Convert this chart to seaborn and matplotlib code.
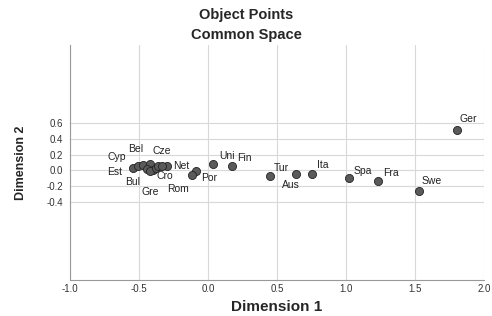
import matplotlib
matplotlib.use("Agg")
import matplotlib.pyplot as plt
from matplotlib import font_manager
import seaborn as sns
import pandas as pd

# object points
countries = ["Est", "Cyp", "Bel", "Cze", "Net", "Bul", "Cro", "Gre", "Rom", "", "",
             "Uni", "Fin", "Por", "", "Tur", "Aus", "Ita", "Spa", "Fra", "Swe", "Ger"]
dim1 = [-0.54, -0.505, -0.47, -0.42, -0.30, -0.44, -0.40, -0.42, -0.375, -0.36, -0.33,
        0.038, 0.171, -0.09, -0.113, 0.448, 0.635, 0.753, 1.025, 1.23, 1.53, 1.805]
dim2 = [0.025, 0.05, 0.065, 0.075, 0.06, 0.01, 0.0, -0.01, 0.025, 0.06, 0.05,
        0.085, 0.06, -0.01, -0.055, -0.076, -0.047, -0.05, -0.105, -0.135, -0.27, 0.52]

xticks = [-1.0, -0.5, 0.0, 0.5, 1.0, 1.5, 2.0]
yticks = [-0.4, -0.2, 0.0, 0.2, 0.4, 0.6]

df = pd.DataFrame({"country": countries, "dim1": dim1, "dim2": dim2})

# label offsets in points (dx, dy)
offsets = {"Est": (-19, -3), "Cyp": (-22, 3), "Bel": (-11, 8), "Cze": (2, 6),
           "Net": (5, 0), "Bul": (-16, -9), "Cro": (3, -4), "Gre": (-6, -15),
           "Rom": (8, -15), "Uni": (4, 2), "Fin": (4, 2), "Por": (4, -5),
           "Tur": (3, 2), "Aus": (-10, -8), "Ita": (4, 3), "Spa": (3, 2),
           "Fra": (4, 2), "Swe": (2, 4), "Ger": (2, 4)}

sns.set_style("whitegrid")
plt.rcParams['font.family'] = ['Liberation Sans', 'DejaVu Sans']

names = {f.name for f in font_manager.fontManager.ttflist}
narrow = 'Liberation Sans Narrow' if 'Liberation Sans Narrow' in names else 'Liberation Sans'

fig = plt.figure(figsize=(4.92, 3.16), dpi=100)
ax = fig.add_axes([0.142, 0.114, 0.842, 0.744])

sns.scatterplot(data=df, x="dim1", y="dim2", ax=ax, color="#5a5a5a",
                edgecolor="#222222", linewidth=0.6, s=34, zorder=3)

for _, r in df.iterrows():
    if r["country"]:
        dx, dy = offsets[r["country"]]
        ax.annotate(r["country"], (r["dim1"], r["dim2"]), xytext=(dx, dy),
                    textcoords="offset points", fontsize=7.5, color="#222222",
                    va="bottom" if dy > 0 else "center", zorder=4)

ax.set_xlim(-1.0, 2.0)
ax.set_ylim(-1.4, 1.6)
ax.set_xticks(xticks)
ax.set_yticks(yticks)
ax.set_xticklabels([f"{t:.1f}" for t in xticks], fontsize=7)
ax.set_yticklabels([f"{t:.1f}" for t in yticks], fontsize=7)
ax.tick_params(axis="x", length=0, pad=3, colors="#333333")
ax.tick_params(axis="y", length=0, pad=5, colors="#333333")
ax.grid(True, color="#d8d8d8", linewidth=0.8)

for s in ["top", "right"]:
    ax.spines[s].set_visible(False)
for s in ["left", "bottom"]:
    ax.spines[s].set_color("#999999")
    ax.spines[s].set_linewidth(0.8)

ax.set_xlabel("Dimension 1", fontsize=11, fontweight="bold", labelpad=4)
ax.set_ylabel("Dimension 2", fontsize=9, fontweight="bold", labelpad=14,
              family=[narrow, 'DejaVu Sans'])

fig.text(0.5, 0.952, "Object Points", ha="center", va="center",
         fontsize=10.5, fontweight="bold")
fig.text(0.5, 0.888, "Common Space", ha="center", va="center",
         fontsize=10.5, fontweight="bold")

fig.savefig("out.png", dpi=100)
